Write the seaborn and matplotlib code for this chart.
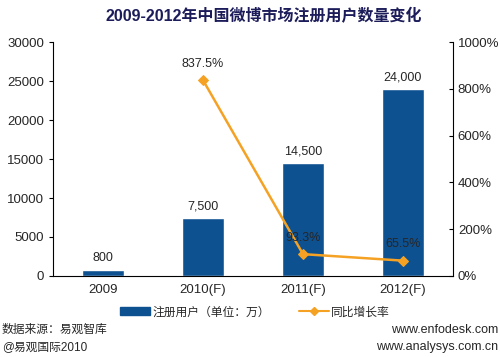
import matplotlib
matplotlib.use('Agg')
import matplotlib.pyplot as plt
import seaborn as sns
import pandas as pd
from matplotlib.ticker import FuncFormatter
from matplotlib.lines import Line2D
from matplotlib.patches import Patch

sns.set_style('white')
plt.rcParams['font.family'] = ['Liberation Sans', 'Noto Sans CJK SC', 'DejaVu Sans']

# 数据
years = ['2009', '2010(F)', '2011(F)', '2012(F)']
users = [800, 7500, 14500, 24000]
growth_years = ['2010(F)', '2011(F)', '2012(F)']
growth = [837.5, 93.3, 65.5]

bar_color = '#0E5191'
line_color = '#F5A224'

fig = plt.figure(figsize=(5, 3.57), dpi=100)
ax = fig.add_axes([0.106, 0.227, 0.8, 0.655])

df = pd.DataFrame({'year': years, 'users': users})
sns.barplot(data=df, x='year', y='users', color=bar_color, width=0.42,
            saturation=1, ax=ax)
ax.set_ylim(0, 30000)
ax.set_yticks(range(0, 30001, 5000))
ax.set_xlabel('')
ax.set_ylabel('')
ax.tick_params(axis='both', labelsize=9.5, length=3, direction='out', color='black')
ax.tick_params(axis='x', length=0, pad=6)
for side in ['top', 'right']:
    ax.spines[side].set_visible(False)
for side in ['left', 'bottom']:
    ax.spines[side].set_color('black')
    ax.spines[side].set_linewidth(0.8)

for i, v in enumerate(users):
    ax.text(i, v + 700, f'{v:,}', ha='center', va='bottom', fontsize=9)

ax2 = ax.twinx()
gdf = pd.DataFrame({'year': [years.index(y) for y in growth_years], 'growth': growth})
sns.lineplot(data=gdf, x='year', y='growth', color=line_color, marker='D',
             markersize=5, linewidth=1.8, markeredgecolor=line_color, ax=ax2)
ax2.set_ylim(0, 1000)
ax2.set_yticks(range(0, 1001, 200))
ax2.yaxis.set_major_formatter(FuncFormatter(lambda v, p: f'{int(v)}%'))
ax2.set_ylabel('')
ax2.set_xlabel('')
ax.set_xlim(-0.5, 3.5)
ax2.set_xlim(-0.5, 3.5)
ax2.tick_params(axis='y', labelsize=9.5, length=3, direction='in', color='black')
for side in ['top', 'left', 'bottom']:
    ax2.spines[side].set_visible(False)
ax2.spines['right'].set_color('black')
ax2.spines['right'].set_linewidth(0.8)

for x, v in zip(gdf['year'], growth):
    ax2.text(x, v + 45, f'{v}%', ha='center', va='bottom', fontsize=9)

fig.text(0.527, 0.955, '2009-2012年中国微博市场注册用户数量变化', ha='center', va='center',
         fontsize=11.5, fontweight='bold', color='#1C1C5A')

handles = [Patch(color=bar_color, label='注册用户（单位：万）'),
           Line2D([], [], color=line_color, marker='D', markersize=4, linewidth=1.5,
                  label='同比增长率')]
fig.legend(handles=handles, loc='center', bbox_to_anchor=(0.51, 0.125), ncol=2,
           frameon=False, fontsize=8.5, handlelength=2.5, columnspacing=2.5,
           handletextpad=0.2)

fig.text(0.004, 0.075, '数据来源：易观智库', fontsize=8.5, va='center')
fig.text(0.004, 0.028, '@易观国际2010', fontsize=8.5, va='center')
fig.text(0.996, 0.075, 'www.enfodesk.com', fontsize=9, va='center', ha='right')
fig.text(0.996, 0.028, 'www.analysys.com.cn', fontsize=9, va='center', ha='right')

fig.savefig('out.png', dpi=100, facecolor='white')
